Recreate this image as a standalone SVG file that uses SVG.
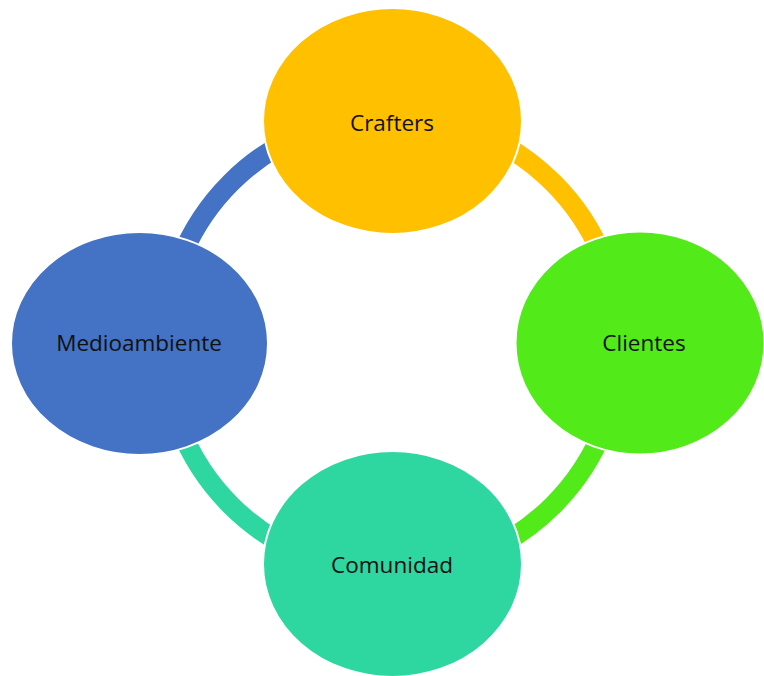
<svg xmlns="http://www.w3.org/2000/svg" width="764" height="676" viewBox="0 0 764 676">
<style>
.arc{fill:none;stroke-width:20}
.node{stroke:#ffffff;stroke-width:2}
.lbl{font-family:"Open Sans","Liberation Sans",sans-serif;font-size:22.5px;fill:#111111;text-anchor:middle}
</style>
<rect width="764" height="676" fill="#ffffff"/>
<g id="connectors">
<path class="arc" stroke="#4472C4" d="M164,344 A228,228 0 0 1 392,116"/>
<path class="arc" stroke="#FFC000" d="M392,116 A228,228 0 0 1 620,344"/>
<path class="arc" stroke="#52EA18" d="M620,344 A228,228 0 0 1 392,572"/>
<path class="arc" stroke="#2ED6A0" d="M392,572 A228,228 0 0 1 164,344"/>
</g>
<g id="crafters">
<ellipse class="node" cx="392.5" cy="121" rx="129.5" ry="113" fill="#FFC000"/>
<text class="lbl" x="392" y="131">Crafters</text>
</g>
<g id="clientes">
<ellipse class="node" cx="640" cy="343" rx="124.5" ry="111.5" fill="#52EA18"/>
<text class="lbl" x="644" y="351">Clientes</text>
</g>
<g id="comunidad">
<ellipse class="node" cx="392.5" cy="564" rx="129.5" ry="113" fill="#2ED6A0"/>
<text class="lbl" x="392" y="573">Comunidad</text>
</g>
<g id="medioambiente">
<ellipse class="node" cx="139.5" cy="343.5" rx="128.5" ry="111.5" fill="#4472C4"/>
<text class="lbl" x="139" y="351">Medioambiente</text>
</g>
</svg>
